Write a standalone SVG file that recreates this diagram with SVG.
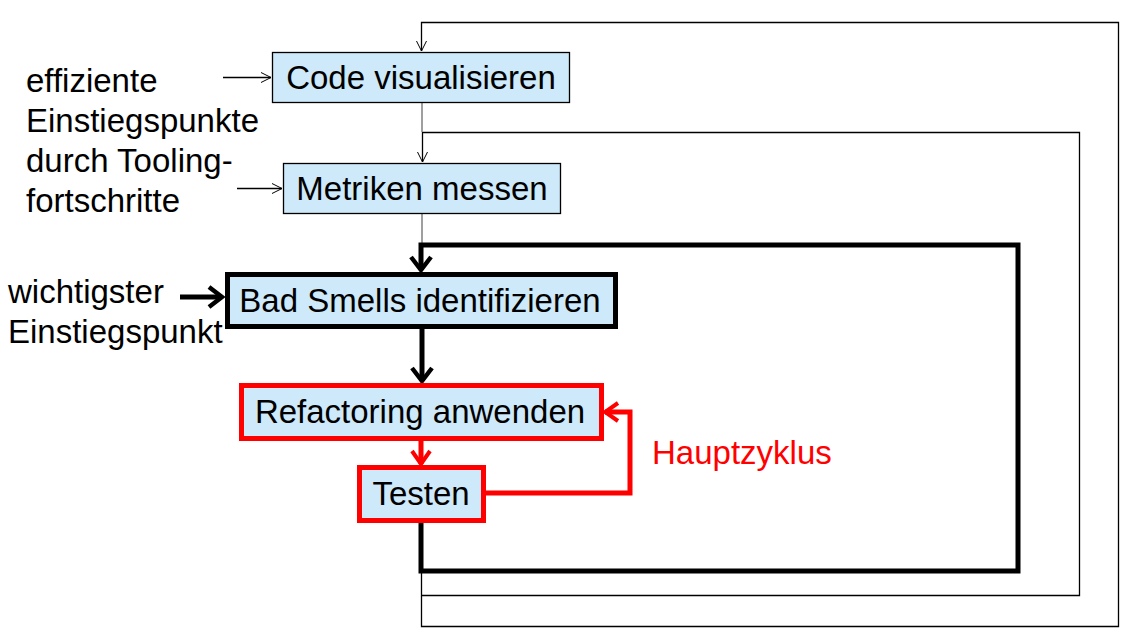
<svg xmlns="http://www.w3.org/2000/svg" width="1133" height="638" viewBox="0 0 1133 638">
<defs>
<style>
.t{font-family:"Liberation Sans",Arial,sans-serif;font-size:33px;fill:#000}
.c{text-anchor:middle}
.box{fill:#cde9fa}
.thin{fill:none;stroke:#000;stroke-width:1.3}
.gray{fill:none;stroke:#7f7f7f;stroke-width:1.5}
.thick{fill:none;stroke:#000;stroke-width:5}
.red{fill:none;stroke:#f00;stroke-width:5}
</style>
<marker id="aThin" markerUnits="userSpaceOnUse" viewBox="0 0 12 12" refX="11" refY="6" markerWidth="12" markerHeight="12" orient="auto">
<path d="M1,1 L11,6 L1,11" fill="none" stroke="#000" stroke-width="1"/>
</marker>
<marker id="aThick" markerUnits="userSpaceOnUse" viewBox="0 0 18 24" refX="15" refY="12" markerWidth="18" markerHeight="24" orient="auto">
<path d="M2,2 L15,12 L2,22" fill="none" stroke="#000" stroke-width="4.5"/>
</marker>
<marker id="aRed" markerUnits="userSpaceOnUse" viewBox="0 0 18 24" refX="15" refY="12" markerWidth="18" markerHeight="24" orient="auto">
<path d="M2,3 L15,12 L2,21" fill="none" stroke="#f00" stroke-width="4"/>
</marker>
</defs>
<rect width="1133" height="638" fill="#fff"/>
<g id="connectors">
<path class="thin" d="M421.5,596 V626.5 H1118.5 V22.5 H421.5 V51" marker-end="url(#aThin)"/>
<path class="thin" d="M421.5,571 V595.5 H1079.5 V132.5 H422.5 V162" marker-end="url(#aThin)"/>
<path class="gray" d="M422,103 V132"/>
<path class="gray" d="M422,214 V245"/>
<path class="thick" d="M421,523 V571 H1018 V245 H421 V270" marker-end="url(#aThick)"/>
<path class="thick" d="M422,329 V381" marker-end="url(#aThick)"/>
<path class="red" d="M421,441 V464" marker-end="url(#aRed)"/>
<path class="red" d="M486,493 H630 V412 H605" marker-end="url(#aRed)"/>
<path class="thin" d="M223,77.5 H271" marker-end="url(#aThin)"/>
<path class="thin" d="M237,188.5 H282" marker-end="url(#aThin)"/>
<path class="thick" d="M180,297 H222" marker-end="url(#aThick)"/>
</g>
<g id="node-code">
<rect class="box" x="272.5" y="52.5" width="297" height="50" stroke="#000" stroke-width="1.3"/>
<text class="t c" x="421" y="89">Code visualisieren</text>
</g>
<g id="node-metriken">
<rect class="box" x="283.5" y="163.5" width="277" height="50" stroke="#000" stroke-width="1.3"/>
<text class="t c" x="422" y="200">Metriken messen</text>
</g>
<g id="node-badsmells">
<rect class="box" x="227.5" y="274.5" width="388" height="52" stroke="#000" stroke-width="5"/>
<text class="t c" x="420" y="312">Bad Smells identifizieren</text>
</g>
<g id="node-refactoring">
<rect class="box" x="241.5" y="385.5" width="360" height="53" stroke="#f00" stroke-width="5"/>
<text class="t c" x="420" y="423">Refactoring anwenden</text>
</g>
<g id="node-testen">
<rect class="box" x="359.5" y="467.5" width="124" height="53" stroke="#f00" stroke-width="5"/>
<text class="t c" x="421" y="505">Testen</text>
</g>
<g id="label-effizient">
<text class="t" x="26" y="92">effiziente</text>
<text class="t" x="26" y="132">Einstiegspunkte</text>
<text class="t" x="26" y="172">durch Tooling-</text>
<text class="t" x="26" y="212">fortschritte</text>
</g>
<g id="label-wichtigster">
<text class="t" x="8" y="303">wichtigster</text>
<text class="t" x="8" y="343">Einstiegspunkt</text>
</g>
<g id="label-hauptzyklus">
<text class="t" x="652" y="464" style="fill:#f00">Hauptzyklus</text>
</g>
</svg>
